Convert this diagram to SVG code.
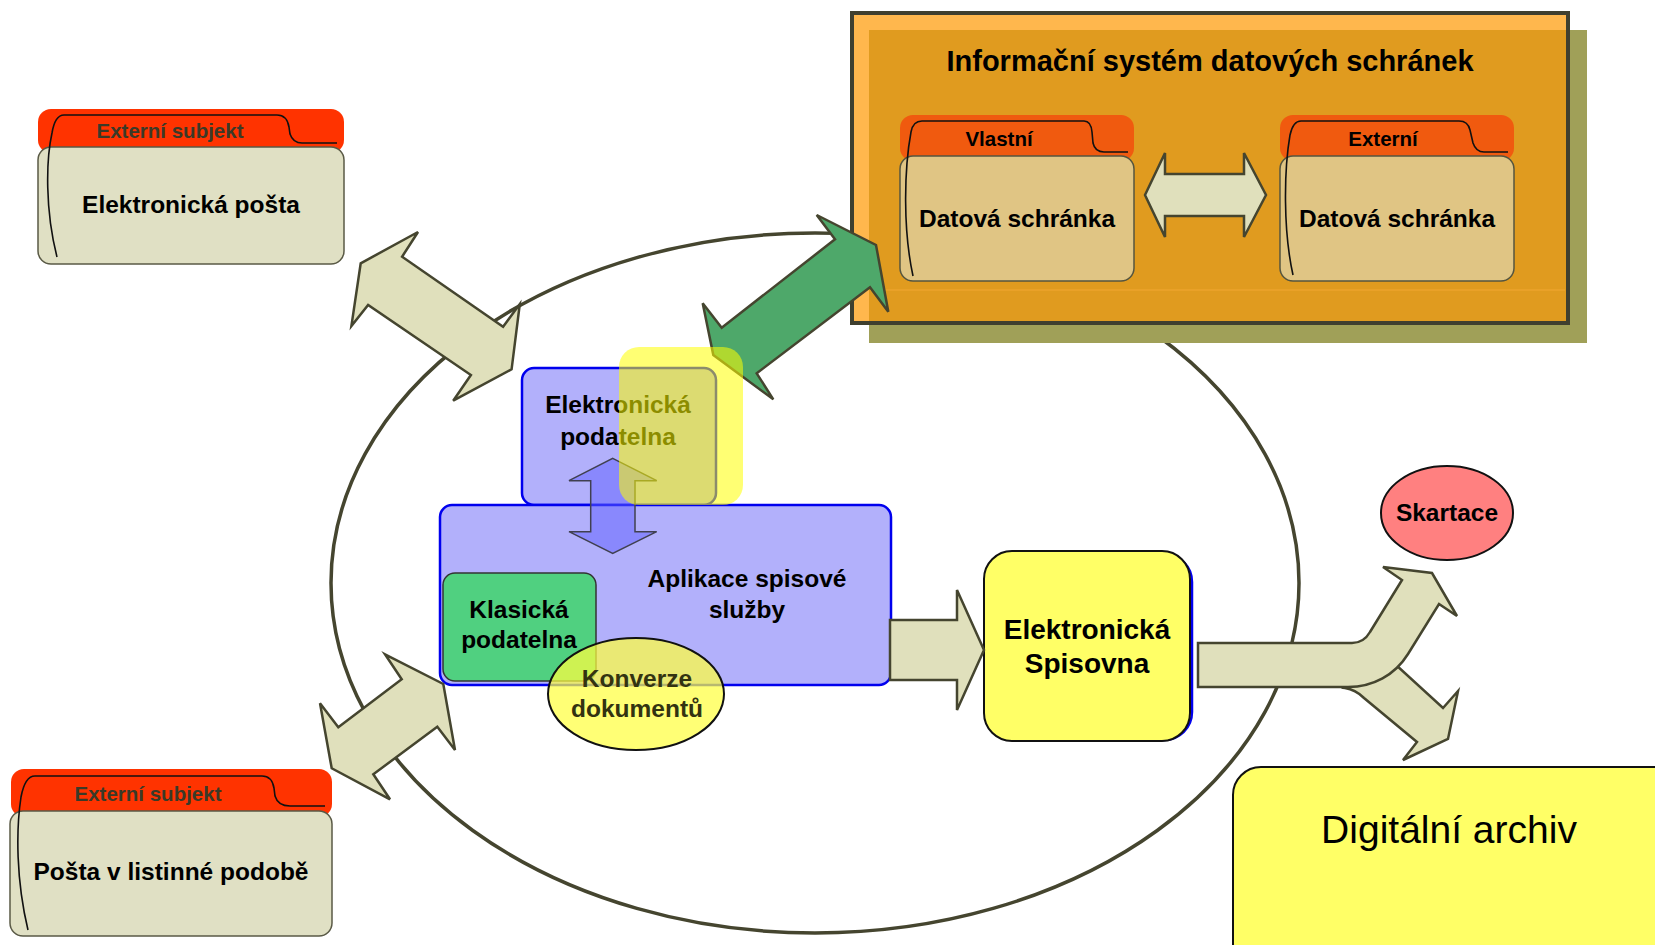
<svg xmlns="http://www.w3.org/2000/svg" width="1655" height="945" viewBox="0 0 1655 945">
<style>
.t{font-family:"Liberation Sans",Arial,sans-serif;font-weight:bold;text-anchor:middle;fill:#000}
.tab1{fill:#ff3300}
.body1{fill:#e0e0c4;stroke:#5a5a46;stroke-width:1.5}
.tab2{fill:#f05a0f}
.body2{fill:#e0c584;stroke:#55553f;stroke-width:1.5}
.fl{fill:none;stroke:#111;stroke-width:1.6}
.arr{fill:#e0e0bc;stroke:#45452f;stroke-width:2.5;stroke-linejoin:miter}
.blue{fill:#b2b0fb;stroke:#0000ee;stroke-width:2.5}
</style>
<rect width="1655" height="945" fill="#fff"/>

<g id="cycle">
<ellipse cx="815" cy="583" rx="484" ry="350" fill="none" stroke="#45452f" stroke-width="3.5"/>
</g>

<g id="isds">
<rect x="869" y="30" width="718" height="313" fill="#a0a058"/>
<rect x="852" y="13" width="716" height="310" fill="#ffb74d"/>
<rect x="869" y="30" width="699" height="293" fill="#e09b1f"/>
<line x1="870" y1="290" x2="1565" y2="290" stroke="#eda32c" stroke-width="1.5"/>
<rect x="852" y="13" width="716" height="310" fill="none" stroke="#3f3f2f" stroke-width="4"/>
<text class="t" x="1210" y="71" font-size="29">Informační systém datových schránek</text>
<g id="ds-vlastni">
<rect class="tab2" x="900" y="115" width="234" height="46" rx="13"/>
<rect class="body2" x="900" y="156" width="234" height="125" rx="13"/>
<path class="fl" d="M913,276 C903,230 904,170 911,132 Q913,121 922,121 L1084,121 Q1091,121 1092,132 L1093,143 Q1095,152 1104,152 L1128,152"/>
<text class="t" x="999" y="146" font-size="20.5" fill="#111">Vlastní</text>
<text class="t" x="1017" y="227" font-size="24.5">Datová schránka</text>
</g>
<g id="ds-externi">
<rect class="tab2" x="1280" y="115" width="234" height="46" rx="13"/>
<rect class="body2" x="1280" y="156" width="234" height="125" rx="13"/>
<path class="fl" d="M1293,275 C1283,230 1284,170 1290,135 Q1293,121 1301,121 L1459,121 Q1468,121 1470,130 L1473,143 Q1476,152 1484,152 L1508,152"/>
<text class="t" x="1383" y="146" font-size="20.5" fill="#111">Externí</text>
<text class="t" x="1397" y="227" font-size="24.5">Datová schránka</text>
</g>
</g>

<g id="ext-email">
<rect class="tab1" x="38" y="109" width="306" height="44" rx="13"/>
<rect class="body1" x="38" y="147" width="306" height="117" rx="13"/>
<path class="fl" d="M57,257 C45,210 46,160 52,133 Q55,115 64,115 L277,115 Q287,115 289,127 L290,134 Q293,143 302,143 L337,143"/>
<text class="t" x="170" y="138" font-size="20.5" style="fill:#3a3a28">Externí subjekt</text>
<text class="t" x="191" y="213" font-size="24.5">Elektronická pošta</text>
</g>

<g id="ext-paper">
<rect class="tab1" x="11" y="769" width="321" height="48" rx="13"/>
<rect class="body1" x="10" y="811" width="322" height="125" rx="13"/>
<path class="fl" d="M28,930 C16,880 16,830 21,797 Q25,776 35,776 L262,776 Q272,776 274,788 L275,796 Q278,806 290,806 L325,806"/>
<text class="t" x="148" y="801" font-size="20.5" style="fill:#3a3a28">Externí subjekt</text>
<text class="t" x="171" y="880" font-size="24.5">Pošta v listinné podobě</text>
</g>

<g id="el-podatelna">
<rect class="blue" x="522" y="368" width="194" height="137" rx="12"/>
<text class="t" x="618" y="413" font-size="24.5">Elektronická</text>
<text class="t" x="618" y="445" font-size="24.5">podatelna</text>
</g>

<g id="aplikace">
<rect class="blue" x="440" y="505" width="451" height="180" rx="12"/>
<text class="t" x="747" y="587" font-size="24.5">Aplikace spisové</text>
<text class="t" x="747" y="618" font-size="24.5">služby</text>
</g>

<g id="klasicka">
<rect x="443" y="573" width="153" height="108" rx="12" fill="#50d080" stroke="#333" stroke-width="1.5"/>
<text class="t" x="519" y="618" font-size="24.5">Klasická</text>
<text class="t" x="519" y="648" font-size="24.5">podatelna</text>
</g>

<g id="konverze">
<ellipse cx="636" cy="694" rx="88" ry="56" fill="#ffff40" fill-opacity="0.72" stroke="#111" stroke-width="2"/>
<text class="t" x="637" y="687" font-size="24.5" style="fill:#333311">Konverze</text>
<text class="t" x="637" y="717" font-size="24.5" style="fill:#333311">dokumentů</text>
</g>

<g id="spisovna">
<rect x="987" y="554" width="205" height="186" rx="28" fill="none" stroke="#0000ee" stroke-width="2.5"/>
<rect x="984" y="551" width="206" height="190" rx="28" fill="#ffff66" stroke="#111" stroke-width="2"/>
<text class="t" x="1087" y="639" font-size="28">Elektronická</text>
<text class="t" x="1087" y="673" font-size="28">Spisovna</text>
</g>

<g id="skartace">
<ellipse cx="1447" cy="513" rx="66" ry="47" fill="#ff8080" stroke="#111" stroke-width="2"/>
<text class="t" x="1447" y="521" font-size="24.5">Skartace</text>
</g>

<g id="archiv">
<rect x="1233" y="767" width="460" height="220" rx="28" fill="#ffff66" stroke="#111" stroke-width="2"/>
<text x="1449" y="843" font-family="Liberation Sans, Arial, sans-serif" font-size="39" text-anchor="middle" fill="#000">Digitální archiv</text>
</g>

<g id="connectors">
<polygon class="arr" points="1145,195 1165,153 1165,174 1244,174 1244,153 1266,195 1244,237 1244,216 1165,216 1165,237"/>
<polygon class="arr" points="418,232 360.7,263.3 351.4,326 368.1,305 470.9,375 453.2,400.7 511.6,369.3 519.8,304 503.1,326.7 402.1,256.7"/>
<polygon class="arr" points="385,654.3 443.3,684 455,750 437.3,726.7 373.3,774.3 390,799.3 331.7,768.3 320,703.3 338.3,727.3 401.7,679.3"/>
<polygon points="816.7,215 876,245 888.3,311.7 870,287.3 756.7,373.3 773.3,399.3 713.3,355 702.7,303.3 721.7,327.7 835,239.3" fill="#4ea86a" stroke="#45452f" stroke-width="2.5"/>
<polygon class="arr" points="890,620 957,620 957,590 984,650 957,710 957,680 890,680"/>
<path class="arr" d="M1345,688 C1352,689 1358,692 1364,698 L1417,742 L1403,760 L1448,739 L1458,691 L1443,708 L1395,664 Z"/>
<path class="arr" d="M1198,643 L1352,643 C1360,643 1366,639 1370,632 L1402,580 L1383,567 L1432,573 L1457,616 L1439,604 L1408,654 C1395,675 1373,687 1348,687 L1198,687 Z"/>
<polygon points="612.7,458.3 656.7,480.7 635,480.7 635,531.7 656.7,531.7 612.7,553.3 569,531.7 590.7,531.7 590.7,480.7 569,480.7" fill="#6060ff" fill-opacity="0.5" stroke="#404050" stroke-width="1.5"/>
</g>

<g id="highlight">
<rect x="619" y="347" width="124" height="158" rx="20" fill="#ffff00" fill-opacity="0.55"/>
</g>
</svg>
